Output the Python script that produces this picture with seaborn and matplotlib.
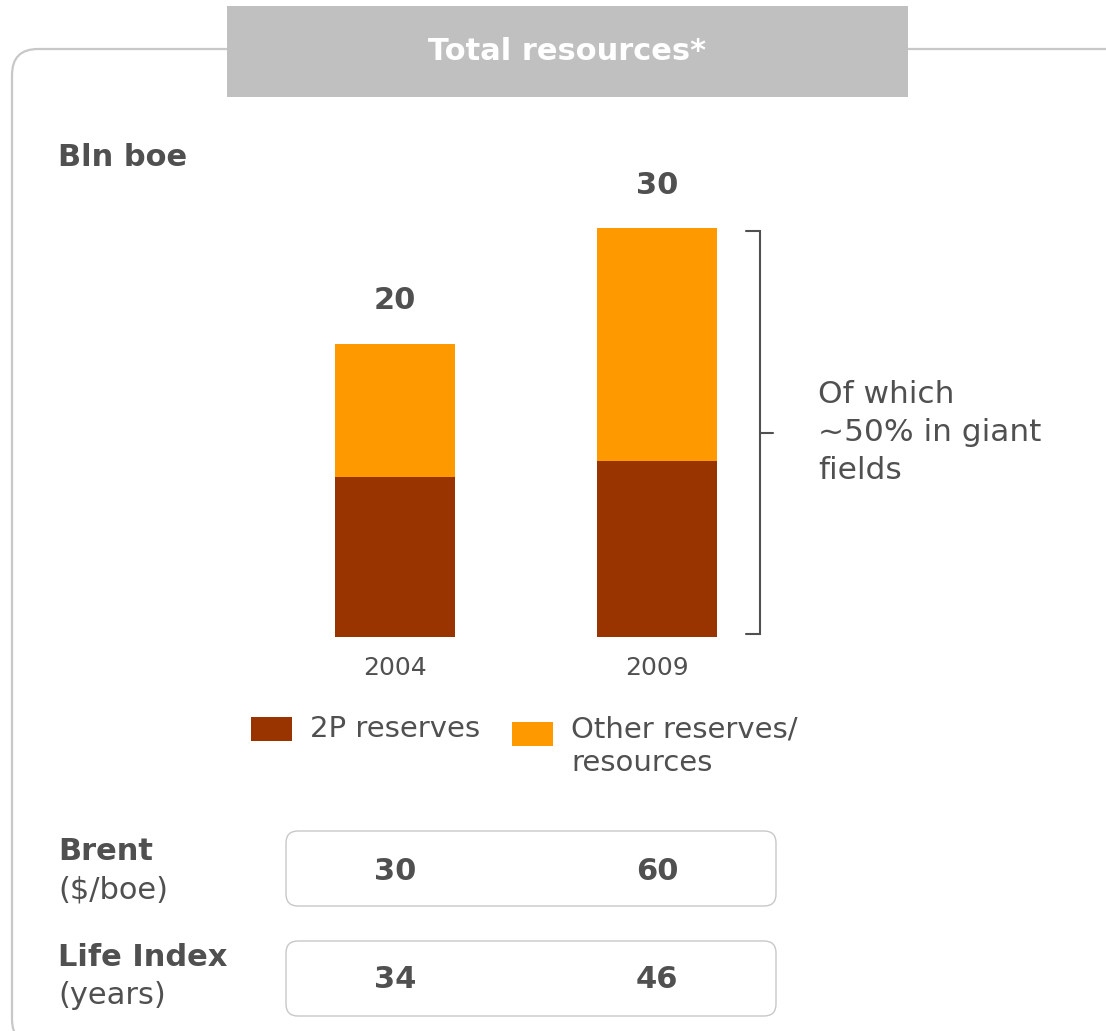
import pandas as pd
import seaborn as sns
import matplotlib.pyplot as plt
from matplotlib.patches import FancyBboxPatch, Rectangle
from matplotlib.transforms import IdentityTransform, blended_transform_factory

# data (bar heights are not drawn to scale in the source)
years = ["2004", "2009"]
reserves_2p = [10.9, 12.0]
other_res = [9.1, 15.9]
total_labels = ["20", "30"]
brent = ["30", "60"]
life_index = ["34", "46"]

W, H = 1106, 1031
dark = "#993300"
orange = "#FF9900"
txt = "#505050"
line_grey = "#c8c8c8"

sns.set_theme(style="white")
plt.rcParams["font.family"] = ["DejaVu Sans"]

fig = plt.figure(figsize=(W / 100, H / 100), dpi=100)
fig.patch.set_facecolor("white")
px = IdentityTransform()


def fy(y):
    # pixel row from the top -> display y
    return H - y


# outer rounded frame and title block
fig.add_artist(FancyBboxPatch((12, fy(1045)), 1130, 996,
                              boxstyle="round,pad=0,rounding_size=26",
                              transform=px, fc="none", ec=line_grey, lw=1.6))
fig.add_artist(Rectangle((227, fy(97)), 681, 91, transform=px,
                         fc="#c0c0c0", ec="none"))
fig.text(567 / W, 1 - 52 / H, "Total resources*", color="white",
         fontsize=22, weight="bold", ha="center", va="center")
fig.text(58 / W, 1 - 158 / H, "Bln boe", color=txt, fontsize=22,
         weight="bold", ha="left", va="center")

# stacked bars
df = pd.DataFrame({"year": years, "2P": reserves_2p, "other": other_res})
df["total"] = df["2P"] + df["other"]

ax = fig.add_axes([264 / W, 1 - 637 / H, 524 / W, 500 / H])
ax.patch.set_alpha(0)
sns.barplot(data=df, x="year", y="total", color=orange, saturation=1,
            width=0.458, linewidth=0, ax=ax)
sns.barplot(data=df, x="year", y="2P", color=dark, saturation=1,
            width=0.458, linewidth=0, ax=ax)
ax.set_xlim(-0.5, 1.5)
ax.set_ylim(0, 500 / 14.65)
ax.set(xlabel="", ylabel="")
ax.set_yticks([])
sns.despine(ax=ax, left=True, bottom=True)
ax.tick_params(axis="x", length=0, pad=14, labelsize=18, labelcolor=txt)

for i, (t, lab) in enumerate(zip(df["total"], total_labels)):
    ax.annotate(lab, (i, t), xytext=(0, 31), textcoords="offset points",
                ha="center", va="center", fontsize=22, weight="bold", color=txt)

# bracket next to 2009 bar
top = df["total"].iloc[1] - 0.2
bot = 0.2
mid = (top + bot) / 2
ax.plot([1.34, 1.393, 1.393, 1.34], [top, top, bot, bot], color=txt,
        lw=1.5, clip_on=False, solid_joinstyle="miter")
ax.plot([1.393, 1.443], [mid, mid], color=txt, lw=1.5, clip_on=False)
ax.text(1.615, mid, "Of which\n~50% in giant\nfields", ha="left", va="center",
        fontsize=22.5, color=txt, linespacing=1.38)

# legend
fig.add_artist(Rectangle((251, fy(741)), 41, 24, transform=px, fc=dark, ec="none"))
fig.text(310 / W, 1 - 729 / H, "2P reserves", fontsize=21, color=txt,
         ha="left", va="center")
fig.add_artist(Rectangle((512, fy(746)), 41, 24, transform=px, fc=orange, ec="none"))
fig.text(571 / W, 1 - 746 / H, "Other reserves/\nresources", fontsize=21,
         color=txt, ha="left", va="center", linespacing=1.25)

# bottom table
fig.text(58 / W, 1 - 851 / H, "Brent", fontsize=22, weight="bold", color=txt,
         ha="left", va="center")
fig.text(58 / W, 1 - 890 / H, "($/boe)", fontsize=22, color=txt,
         ha="left", va="center")
fig.text(58 / W, 1 - 958 / H, "Life Index", fontsize=22, weight="bold",
         color=txt, ha="left", va="center")
fig.text(58 / W, 1 - 996 / H, "(years)", fontsize=22, color=txt,
         ha="left", va="center")

blend = blended_transform_factory(ax.transData, fig.transFigure)
for row_y, box_bottom, vals in [(872, 906, brent), (979, 1016, life_index)]:
    fig.add_artist(FancyBboxPatch((286, fy(box_bottom)), 490, 75,
                                  boxstyle="round,pad=0,rounding_size=12",
                                  transform=px, fc="none", ec=line_grey, lw=1.0))
    for i, v in enumerate(vals):
        ax.text(i, 1 - row_y / H, v, transform=blend, ha="center", va="center",
                fontsize=22, weight="bold", color=txt)

fig.savefig("out.png", dpi=100)
